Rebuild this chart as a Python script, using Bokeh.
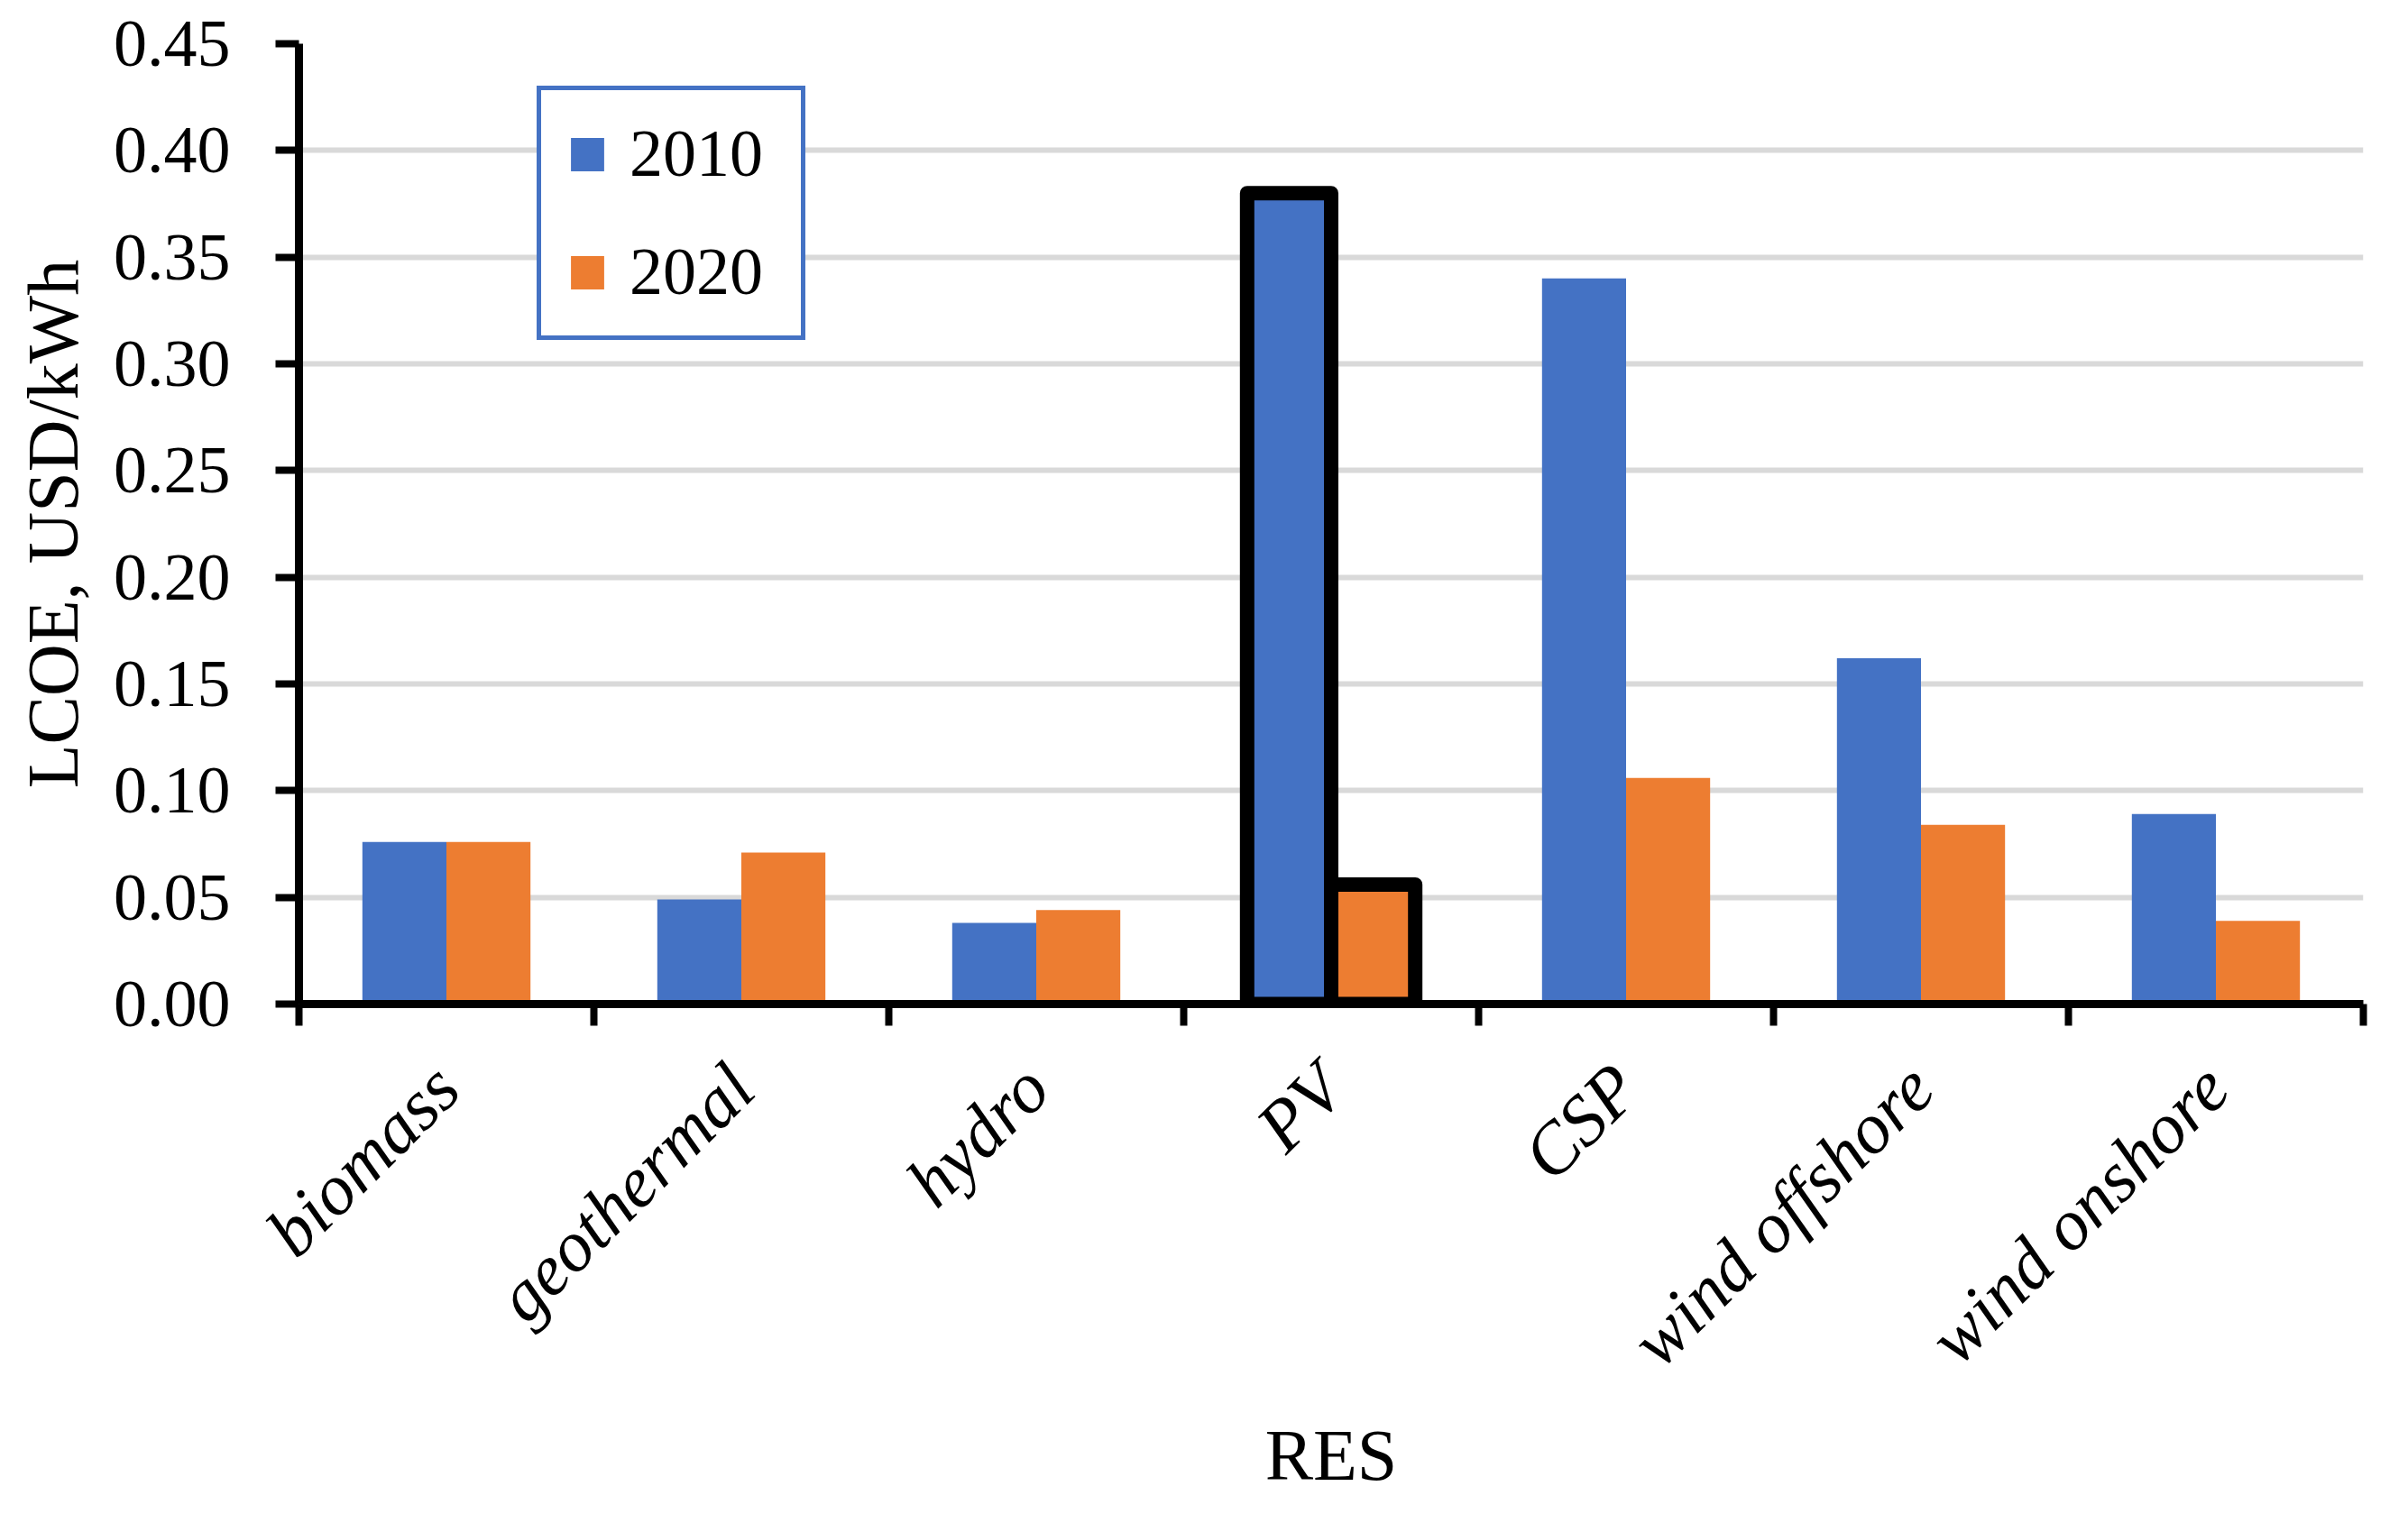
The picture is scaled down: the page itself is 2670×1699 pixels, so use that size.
from bokeh.plotting import figure
from bokeh.models import (ColumnDataSource, FixedTicker, Legend, LegendItem,
                          PrintfTickFormatter, Range1d)
from bokeh.embed import file_html
from bokeh.resources import INLINE
import math

categories = ["biomass", "geothermal", "hydro", "PV", "CSP", "wind offshore", "wind onshore"]
lcoe_2010 = [0.076, 0.049, 0.038, 0.380, 0.340, 0.162, 0.089]
lcoe_2020 = [0.076, 0.071, 0.044, 0.056, 0.106, 0.084, 0.039]
highlight = ["PV"]
y_ticks = [0.00, 0.05, 0.10, 0.15, 0.20, 0.25, 0.30, 0.35, 0.40, 0.45]

BLUE = "#4472C4"
ORANGE = "#ED7D31"
FONT = "Liberation Serif"
BAR_W = 0.285

idx = [i + 0.5 for i in range(len(categories))]
src = ColumnDataSource(dict(
    x10=[v - BAR_W / 2 for v in idx], x20=[v + BAR_W / 2 for v in idx],
    y10=lcoe_2010, y20=lcoe_2020, cat=categories))
hi = [i for i, c in enumerate(categories) if c in highlight]
src_hi = ColumnDataSource(dict(
    x10=[idx[i] - BAR_W / 2 for i in hi], x20=[idx[i] + BAR_W / 2 for i in hi],
    y10=[lcoe_2010[i] for i in hi], y20=[lcoe_2020[i] for i in hi]))

p = figure(frame_width=2289, frame_height=1065, output_backend="svg", toolbar_location=None,
           x_range=Range1d(0, len(categories)), y_range=Range1d(0, 0.45),
           min_border_left=331, min_border_right=34, min_border_top=48,
           min_border_bottom=570)
p.outline_line_color = None
p.background_fill_color = "white"

r10 = p.vbar(x="x10", top="y10", width=BAR_W, source=src, fill_color=BLUE, line_color=None)
r20 = p.vbar(x="x20", top="y20", width=BAR_W, source=src, fill_color=ORANGE, line_color=None)
p.vbar(x="x10", top="y10", width=BAR_W, source=src_hi, fill_color=None,
       line_color="black", line_width=16, line_join="round")
p.vbar(x="x20", top="y20", width=BAR_W, source=src_hi, fill_color=None,
       line_color="black", line_width=16, line_join="round")

# x axis
xa = p.xaxis[0]
xa.ticker = FixedTicker(ticks=idx, minor_ticks=list(range(len(categories) + 1)))
xa.major_label_overrides = {v: c for v, c in zip(idx, categories)}
xa.major_label_orientation = math.pi / 4
xa.major_tick_line_color = None
xa.minor_tick_line_color = "black"
xa.minor_tick_line_width = 8
xa.minor_tick_out = 24
xa.minor_tick_in = 0
xa.axis_line_width = 9
xa.axis_line_color = "black"
xa.major_label_text_font = FONT
xa.major_label_text_font_style = "italic"
xa.major_label_text_font_size = "80px"
xa.major_label_text_color = "black"
xa.major_label_standoff = 56
xa.axis_label = "RES"
xa.axis_label_text_font = FONT
xa.axis_label_text_font_style = "normal"
xa.axis_label_text_font_size = "80px"
xa.axis_label_text_color = "black"
xa.axis_label_standoff = 4

# y axis
ya = p.yaxis[0]
ya.ticker = FixedTicker(ticks=y_ticks)
ya.formatter = PrintfTickFormatter(format="%.2f")
ya.major_tick_line_width = 8
ya.major_tick_out = 26
ya.major_tick_in = 0
ya.minor_tick_line_color = None
ya.axis_line_width = 9
ya.axis_line_color = "black"
ya.major_label_text_font = FONT
ya.major_label_text_font_size = "74px"
ya.major_label_text_color = "black"
ya.major_label_standoff = 50
ya.axis_label = "LCOE, USD/kWh"
ya.axis_label_text_font = FONT
ya.axis_label_text_font_style = "normal"
ya.axis_label_text_font_size = "80px"
ya.axis_label_text_color = "black"
ya.axis_label_standoff = 20

p.xgrid.grid_line_color = None
p.ygrid.ticker = FixedTicker(ticks=y_ticks)
p.ygrid.grid_line_color = "#D9D9D9"
p.ygrid.grid_line_width = 6

legend = Legend(items=[LegendItem(label="2010", renderers=[r10]),
                       LegendItem(label="2020", renderers=[r20])],
                location=(264, 736))
legend.glyph_width = 46
legend.glyph_height = 46
legend.label_height = 82
legend.label_width = 162
legend.spacing = 46
legend.padding = 28
legend.label_standoff = 24
legend.label_text_font = FONT
legend.label_text_font_size = "74px"
legend.label_text_color = "black"
legend.border_line_color = BLUE
legend.border_line_width = 5
legend.border_line_alpha = 1.0
legend.background_fill_color = "white"
legend.background_fill_alpha = 1.0
p.add_layout(legend, "center")

open("out.html", "w").write(file_html(p, INLINE))
